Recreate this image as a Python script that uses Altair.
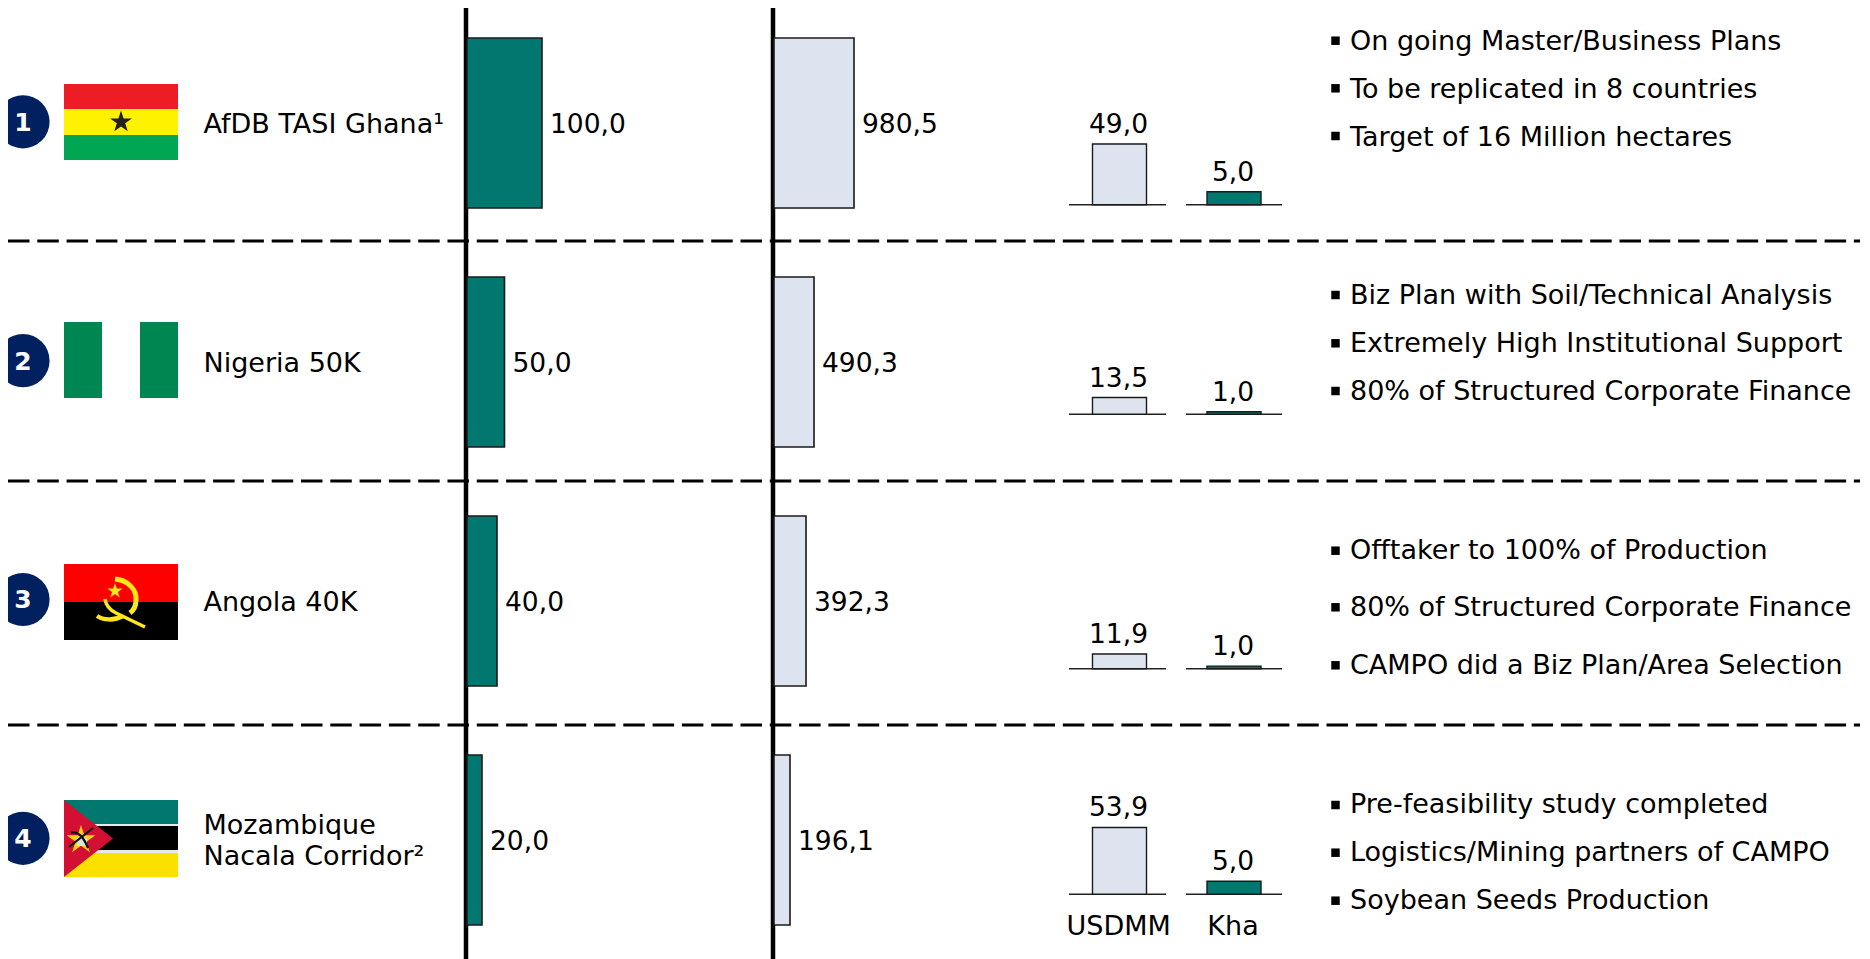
import math
import altair as alt
import pandas as pd

rows = ["1", "2", "3", "4"]
area = [100.0, 50.0, 40.0, 20.0]
invest = [980.5, 490.3, 392.3, 196.1]
usd = [49.0, 13.5, 11.9, 53.9]
kha = [5.0, 1.0, 1.0, 5.0]
names = ["AfDB TASI Ghana¹", "Nigeria 50K", "Angola 40K", "Mozambique", "Nacala Corridor²"]
bullets = [
    "On going Master/Business Plans", "To be replicated in 8 countries", "Target of 16 Million hectares",
    "Biz Plan with Soil/Technical Analysis", "Extremely High Institutional Support", "80% of Structured Corporate Finance",
    "Offtaker to 100% of Production", "80% of Structured Corporate Finance", "CAMPO did a Biz Plan/Area Selection",
    "Pre-feasibility study completed", "Logistics/Mining partners of CAMPO", "Soybean Seeds Production",
]
units = ["USDMM", "Kha"]

TEAL = "#00786F"
LIGHT = "#DEE4EF"
NAVY = "#002060"
FONT = "DejaVu Sans"
FS = 27
FSN = 26.5
OFF = 8  # page margin


def lab(v):
    return f"{v:.1f}".replace(".", ",")


def px(v):
    return v - OFF


layers = []

# horizontal separators and vertical axes
for y in [241, 481, 725]:
    layers.append(alt.Chart(pd.DataFrame({"a": [0]})).mark_rule(
        color="black", strokeWidth=3, strokeDash=[21.5, 7.8]).encode(
        x=alt.value(px(8)), x2=alt.value(px(1860)), y=alt.value(px(y))))
for x in [466, 773]:
    layers.append(alt.Chart(pd.DataFrame({"a": [0]})).mark_rule(
        color="black", strokeWidth=4.5).encode(
        x=alt.value(px(x)), y=alt.value(px(5)), y2=alt.value(px(959))))

# main bars
row_y = alt.Y("row:N", axis=None, scale=alt.Scale(type="point", padding=0, domain=rows, range=[px(123), px(840)]))
main = pd.DataFrame({"row": rows, "area": area, "invest": invest,
                     "a_lab": [lab(v) for v in area], "i_lab": [lab(v) for v in invest]})
for col, txt, fill, dom, rng in [
    ("area", "a_lab", TEAL, [0, 100], [px(467), px(542)]),
    ("invest", "i_lab", LIGHT, [0, 980.5], [px(774), px(854)]),
]:
    x = alt.X(f"{col}:Q", axis=None, scale=alt.Scale(domain=dom, range=rng))
    layers.append(alt.Chart(main).mark_bar(size=170, fill=fill, stroke="#1a1a1a", strokeWidth=1.6, opacity=1).encode(x=x, y=row_y))
    layers.append(alt.Chart(main).mark_text(align="left", baseline="middle", dx=8, dy=2, font=FONT, fontSize=FSN, color="black").encode(
        x=x, y=row_y, text=f"{txt}:N"))

# small column charts, one baseline per row
bases = [204.7, 414.3, 668.7, 894.3]
unit_x = alt.X("unit:N", axis=None, scale=alt.Scale(type="point", padding=0, domain=units, range=[px(1119.5), px(1234)]))
for base, u, k in zip(bases, usd, kha):
    for seg in [(1069, 1166), (1186, 1282)]:
        layers.append(alt.Chart(pd.DataFrame({"a": [0]})).mark_rule(color="#222222", strokeWidth=1.6).encode(
            x=alt.value(px(seg[0])), x2=alt.value(px(seg[1])), y=alt.value(px(base))))
    for unit, val, fill, dom, h in [("USDMM", u, LIGHT, 100, 124), ("Kha", k, TEAL, 10, 26)]:
        d = pd.DataFrame({"unit": [unit], "v": [val], "t": [lab(val)]})
        y = alt.Y("v:Q", axis=None, scale=alt.Scale(domain=[0, dom], range=[px(base), px(base - h)]))
        layers.append(alt.Chart(d).mark_bar(size=54, fill=fill, stroke="#1a1a1a", strokeWidth=1.4, opacity=1).encode(x=unit_x, y=y))
        layers.append(alt.Chart(d).mark_text(align="center", baseline="alphabetic", dx=-1, dy=-11, font=FONT, fontSize=FSN, color="black").encode(
            x=unit_x, y=y, text="t:N"))

# numbered circles
circle_y = alt.Y("row:N", axis=None, scale=alt.Scale(type="point", padding=0, domain=rows, range=[px(121.8), px(838.3)]))
cd = pd.DataFrame({"row": rows})
layers.append(alt.Chart(cd).mark_circle(size=math.pi * 30 ** 2, color=NAVY, opacity=1).encode(x=alt.value(px(23)), y=circle_y))
layers.append(alt.Chart(cd).mark_text(font=FONT, fontSize=25, fontWeight="bold", color="white", align="center", baseline="middle", dy=1).encode(
    x=alt.value(px(23)), y=circle_y, text="row:N"))


# flags
def rect(x0, y0, x1, y1):
    return f"M{x0},{y0}L{x1},{y0}L{x1},{y1}L{x0},{y1}Z"


def star(cx, cy, r):
    pts = []
    for i in range(10):
        rad = r if i % 2 == 0 else r * 0.382
        a = -math.pi / 2 + i * math.pi / 5
        pts.append(f"{cx + rad * math.cos(a):.2f},{cy + rad * math.sin(a):.2f}")
    return "M" + "L".join(pts) + "Z"


def flag(origin_y, path, color, stroke=None):
    if stroke:
        m = alt.Chart(cd.head(1)).mark_point(shape=path, size=4, filled=False, stroke=color, strokeWidth=stroke, opacity=1)
    else:
        m = alt.Chart(cd.head(1)).mark_point(shape=path, size=4, filled=True, fill=color, strokeWidth=0, opacity=1)
    layers.append(m.encode(x=alt.value(px(64)), y=alt.value(px(origin_y))))


# Ghana
flag(84, rect(0, 0, 114, 25), "#EE1C25")
flag(84, rect(0, 25, 114, 51), "#FFF200")
flag(84, rect(0, 51, 114, 76), "#00A651")
flag(84, star(57, 38, 11.5), "#231F20")
# Nigeria
flag(322, rect(0, 0, 38, 76), "#008751")
flag(322, rect(76, 0, 114, 76), "#008751")
# Angola
flag(564, rect(0, 0, 114, 38), "#FF0000")
flag(564, rect(0, 38, 114, 76), "#000000")
flag(564, star(51, 27, 8), "#FFE81A")
flag(564, "M51,15 C64,16 73,26 72,36 C72,42 70,46 66,49", "#FFE81A", 5)
flag(564, "M41,35 C42,42 46,46 52,49 L81,63", "#FFE81A", 3.5)
flag(564, "M33,52 C39,56 50,57 59,52", "#FFE81A", 4.5)
# Mozambique
flag(800, rect(0, 0, 114, 24), "#00786F")
flag(800, rect(0, 24, 114, 26), "#E8E8E8")
flag(800, rect(0, 26, 114, 50), "#000000")
flag(800, rect(0, 50, 114, 53), "#E8E8E8")
flag(800, rect(0, 53, 114, 77), "#FCE100")
flag(800, "M0,0L49,38.5L0,77Z", "#D21034")
flag(800, star(17, 40, 15), "#FCD116")
flag(800, rect(13, 38, 23, 46), "#E0E0E0")
flag(800, "M5,47 L29,28", "#111111", 2.2)
flag(800, "M7,33 C14,30 20,38 24,48", "#111111", 2.2)

# free text
txt_rows = []
for t, y in zip(names, [125, 364, 603.2, 825.5, 857]):
    txt_rows.append({"t": t, "x": px(203.5), "y": px(y)})
bullet_ys = [41.7, 90.3, 138, 296, 344.3, 392, 551, 608, 666, 805, 853, 901]
square_ys = [40.7, 88.3, 136, 295, 343.3, 391, 550.7, 607.3, 665.3, 805, 852.7, 900.7]
for t, y in zip(bullets, bullet_ys):
    txt_rows.append({"t": t, "x": px(1350), "y": px(y)})
for t, x in zip(units, [1118.7, 1233]):
    txt_rows.append({"t": t, "x": px(x), "y": px(927)})
tdf = pd.DataFrame(txt_rows)
left = tdf[~tdf["t"].isin(units)]
layers.append(alt.Chart(left).mark_text(align="left", baseline="middle", font=FONT, fontSize=FS, color="black").encode(
    x=alt.X("x:Q", scale=None, axis=None), y=alt.Y("y:Q", scale=None, axis=None), text="t:N"))
layers.append(alt.Chart(tdf[tdf["t"].isin(units)]).mark_text(align="center", baseline="middle", font=FONT, fontSize=FS, color="black").encode(
    x=alt.X("x:Q", scale=None, axis=None), y=alt.Y("y:Q", scale=None, axis=None), text="t:N"))

# bullet squares
bd = pd.DataFrame({"x": [px(1335.5)] * 12, "y": [px(y) for y in square_ys]})
layers.append(alt.Chart(bd).mark_square(size=72, color="black", opacity=1).encode(
    x=alt.X("x:Q", scale=None, axis=None), y=alt.Y("y:Q", scale=None, axis=None)))

chart = alt.layer(*layers).resolve_scale(x="independent", y="independent").properties(
    width=1854, height=951, padding=0,
    autosize=alt.AutoSizeParams(type="none", contains="content"),
).configure_view(stroke=None)

chart.save("out.html", embed_options={"renderer": "svg", "actions": False})
